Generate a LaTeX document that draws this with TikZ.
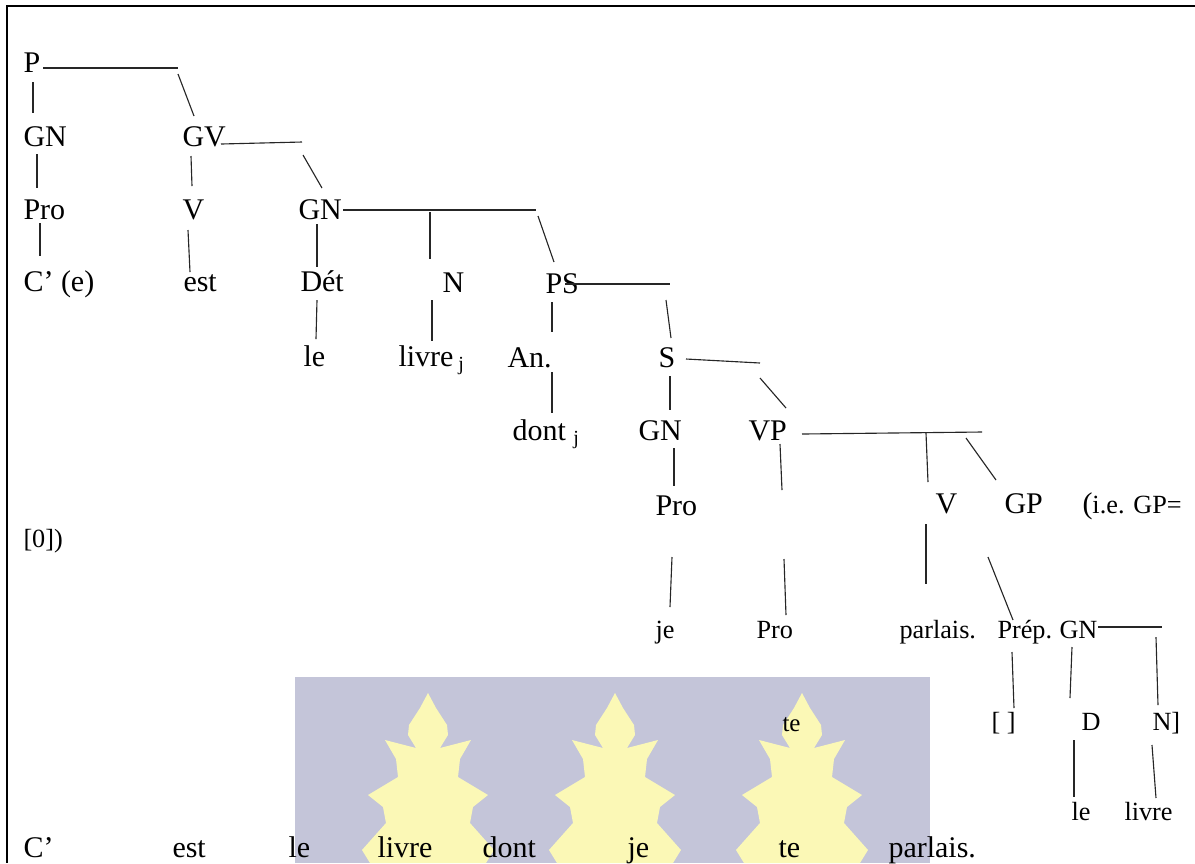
\documentclass[tikz,border=0pt]{standalone}
\usepackage{fontspec}
\setmainfont{Liberation Serif}
\usepackage{tikz}

\definecolor{wmgrey}{HTML}{C4C5D9}
\definecolor{wmleaf}{HTML}{FBF8B6}

\begin{document}
\begin{tikzpicture}[x=0.4pt, y=-0.4pt,
    lab/.style={anchor=base west, inner sep=0pt, font=\fontsize{12}{14}\selectfont},
    sm/.style={lab, font=\fontsize{10.5}{12}\selectfont},
    branch/.style={draw=black!85, line width=0.45pt}
  ]
  \useasboundingbox (0,0) rectangle (1195,863);

  % watermark: grey panel with three leaves
  \fill[wmgrey] (295,677) rectangle (930,863);
  \foreach \cx in {428,615,802} {
    \fill[wmleaf, shift={(\cx,693)}] (0,0) -- (8,15) -- (19,32) -- (20,42) -- (12,55) -- (43,47)
      -- (32,66) -- (30,84) -- (60,102) -- (45,114) -- (42,130) -- (66,157) -- (58,170)
      -- (-58,170) -- (-66,157) -- (-42,130) -- (-45,114) -- (-60,102) -- (-30,84) -- (-32,66)
      -- (-43,47) -- (-12,55) -- (-20,42) -- (-19,32) -- (-8,15) -- cycle;
  }

  % frame
  \draw[line width=0.8pt] (1195,6) -- (7,6) -- (7,863);

  % tree labels
  \node[lab] (p) at (23,72) {P};
  \node[lab] (gn1) at (23,146) {GN};
  \node[lab] (gv) at (182,146) {GV};
  \node[lab] (pro1) at (23,219) {Pro};
  \node[lab] (v1) at (182,219) {V};
  \node[lab] (gn2) at (298,219) {GN};
  \node[lab] (ce) at (23,291) {C’ (e)};
  \node[lab] (est) at (183,291) {est};
  \node[lab] (det) at (300,291) {Dét};
  \node[lab] (n1) at (442,292) {N};
  \node[lab] (ps) at (545,293) {PS};
  \node[lab] (le1) at (303,366) {le};
  \node[lab] (livre1) at (398,366) {livre\,\textsubscript{j}};
  \node[lab] (an) at (507,367) {An.};
  \node[lab] (s) at (658,367) {S};
  \node[lab] (dont) at (512,440) {dont \textsubscript{j}};
  \node[lab] (gn3) at (638,440) {GN};
  \node[lab] (vp) at (748,440) {VP};
  \node[lab] (pro2) at (655,515) {Pro};
  \node[lab] (v2) at (935,513) {V};
  \node[lab] (gp) at (1004,513) {GP};
  \node[sm] (ie) at (1082,513) {{\fontsize{12}{14}\selectfont(}i.e. GP=};
  \node[sm] (zero) at (23,547) {[0])};
  \node[sm] (je) at (655,638) {je};
  \node[sm] (pro3) at (756,638) {Pro};
  \node[sm] (parlais) at (899,638) {parlais.};
  \node[sm] (prep) at (997,638) {Prép.};
  \node[sm] (gn4) at (1059,638) {GN};
  \node[sm] (vide) at (991,730) {[ ]};
  \node[sm] (d) at (1081,730) {D};
  \node[sm] (n2) at (1152,730) {N]};
  \node[sm, font=\fontsize{10}{12}\selectfont] (te) at (782,731) {te};
  \node[sm] (le2) at (1071,820) {le};
  \node[sm] (livre2) at (1124,820) {livre};

  % the sentence under the tree
  \foreach \w/\x [count=\i] in {C’/23, est/172, le/288, livre/377, dont/482, je/627, te/778, parlais./888}
    \node[lab] (w\i) at (\x,857) {\w};

  % ends of the horizontal bars
  \coordinate (p-bar) at (178,68);
  \coordinate (gv-bar) at (302,142);
  \coordinate (gn2-bar) at (536,210);
  \coordinate (ps-bar) at (670,284);
  \coordinate (s-bar) at (760,363);
  \coordinate (vp-bar) at (982,432);
  \coordinate (gn4-bar) at (1162,627);

  % bars
  \draw[branch] ([shift={(20,-4)}]p.base west) -- (p-bar);
  \draw[branch] ([shift={(39,-2)}]gv.base west) -- (gv-bar);
  \draw[branch] ([shift={(45,-9)}]gn2.base west) -- (gn2-bar);
  \draw[branch] ([shift={(20,-9)}]ps.base west) -- (ps-bar);
  \draw[branch] ([shift={(28,-8)}]s.base west) -- (s-bar);
  \draw[branch] ([shift={(54,-6)}]vp.base west) -- (vp-bar);
  \draw[branch] ([shift={(39,-11)}]gn4.base west) -- (gn4-bar);

  % slanted branches hanging from the bars
  \draw[branch] ([shift={(0,6)}]p-bar) -- ([shift={(12,-30)}]gv.base west);
  \draw[branch] ([shift={(1,13)}]gv-bar) -- ([shift={(24,-31)}]gn2.base west);
  \draw[branch] ([shift={(2,6)}]gn2-bar) -- ([shift={(9,-31)}]ps.base west);
  \draw[branch] ([shift={(-4,16)}]ps-bar) -- ([shift={(13,-29)}]s.base west);
  \draw[branch] ([shift={(0,15)}]s-bar) -- ([shift={(38,-32)}]vp.base west);
  \draw[branch] ([shift={(-16,6)}]vp-bar) -- ([shift={(-8,-33)}]gp.base west);
  \draw[branch] ([shift={(-12,-80)}]n1.base west) -- ([shift={(-12,-33)}]n1.base west);
  \draw[branch] ([shift={(-9,-80)}]v2.base west) -- ([shift={(-7,-31)}]v2.base west);
  \draw[branch] ([shift={(4,-93)}]n2.base west) -- ([shift={(6,-25)}]n2.base west);

  % vertical branches
  \draw[branch] ([shift={(10,10)}]p.base west) -- ([shift={(10,-33)}]gn1.base west);
  \draw[branch] ([shift={(14,8)}]gn1.base west) -- ([shift={(14,-31)}]pro1.base west);
  \draw[branch] ([shift={(9,10)}]gv.base west) -- ([shift={(10,-33)}]v1.base west);
  \draw[branch] ([shift={(17,4)}]pro1.base west) -- ([shift={(17,-35)}]ce.base west);
  \draw[branch] ([shift={(6,11)}]v1.base west) -- ([shift={(7,-19)}]est.base west);
  \draw[branch] ([shift={(19,5)}]gn2.base west) -- ([shift={(17,-24)}]det.base west);
  \draw[branch] ([shift={(17,9)}]det.base west) -- ([shift={(13,-27)}]le1.base west);
  \draw[branch] ([shift={(-10,8)}]n1.base west) -- ([shift={(34,-25)}]livre1.base west);
  \draw[branch] ([shift={(7,9)}]ps.base west) -- ([shift={(45,-35)}]an.base west);
  \draw[branch] ([shift={(45,5)}]an.base west) -- ([shift={(40,-27)}]dont.base west);
  \draw[branch] ([shift={(12,9)}]s.base west) -- ([shift={(32,-30)}]gn3.base west);
  \draw[branch] ([shift={(36,8)}]gn3.base west) -- ([shift={(19,-29)}]pro2.base west);
  \draw[branch] ([shift={(32,4)}]vp.base west) -- ([shift={(34,50)}]vp.base west);
  \draw[branch] ([shift={(28,-79)}]pro3.base west) -- ([shift={(30,-23)}]pro3.base west);
  \draw[branch] ([shift={(17,42)}]pro2.base west) -- ([shift={(15,-31)}]je.base west);
  \draw[branch] ([shift={(-9,11)}]v2.base west) -- ([shift={(27,-54)}]parlais.base west);
  \draw[branch] ([shift={(-16,44)}]gp.base west) -- ([shift={(16,-18)}]prep.base west);
  \draw[branch] ([shift={(15,14)}]prep.base west) -- ([shift={(23,-22)}]vide.base west);
  \draw[branch] ([shift={(13,9)}]gn4.base west) -- ([shift={(-11,-32)}]d.base west);
  \draw[branch] ([shift={(-7,10)}]d.base west) -- ([shift={(3,-23)}]le2.base west);
  \draw[branch] ([shift={(0,15)}]n2.base west) -- ([shift={(32,-22)}]livre2.base west);
\end{tikzpicture}
\end{document}
